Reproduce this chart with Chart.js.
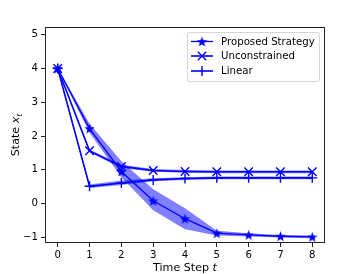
<!DOCTYPE html>
<html lang="en">
<head>
    <meta charset="UTF-8">
    <title>state trajectories</title>
    <style>
        body {
            margin: 0;
            background-color: #ffffff;
        }

        #wrap {
            position: relative;
            width: 361px;
            height: 274px;
        }
    </style>
    <script src="https://cdn.jsdelivr.net/npm/chart.js"></script>
</head>
<body>

    <div id="wrap"><canvas id="graph"></canvas></div>

    <script>
        // data
        const steps = [0, 1, 2, 3, 4, 5, 6, 7, 8];
        const proposed = [4.0, 2.22, 0.95, 0.08, -0.45, -0.88, -0.93, -0.97, -0.99];
        const proposedHigh = [4.02, 2.36, 1.25, 0.42, -0.14, -0.81, -0.88, -0.93, -0.95];
        const proposedLow = [3.98, 2.1, 0.78, -0.2, -0.76, -0.95, -0.98, -1.01, -1.03];
        const unconstrained = [4.0, 1.56, 1.1, 0.98, 0.95, 0.94, 0.94, 0.94, 0.94];
        const unconstrainedHigh = [4.02, 1.6, 1.15, 1.02, 0.99, 0.98, 0.98, 0.98, 0.98];
        const unconstrainedLow = [3.98, 1.52, 1.05, 0.94, 0.91, 0.9, 0.9, 0.9, 0.9];
        const linear = [4.0, 0.51, 0.61, 0.7, 0.74, 0.76, 0.76, 0.76, 0.76];
        const linearHigh = [4.02, 0.56, 0.68, 0.75, 0.78, 0.8, 0.8, 0.8, 0.8];
        const linearLow = [3.98, 0.46, 0.55, 0.66, 0.7, 0.72, 0.72, 0.72, 0.72];
        const xTicks = [0, 1, 2, 3, 4, 5, 6, 7, 8];
        const yTicks = [-1, 0, 1, 2, 3, 4, 5];
        const names = ['Proposed Strategy', 'Unconstrained', 'Linear'];

        const blue = '#0000ff';
        const band = 'rgba(0, 0, 255, 0.5)';

        // filled five point star like matplotlib '*'
        function MakeStar(size) {
            const c = document.createElement('canvas');
            c.width = size;
            c.height = size;
            const g = c.getContext('2d');
            const r = size / 2;
            g.beginPath();
            for (let i = 0; i < 10; i++) {
                const rr = i % 2 == 0 ? r : r * 0.42;
                const a = -Math.PI / 2 + i * Math.PI / 5;
                const px = r + rr * Math.cos(a);
                const py = r + 0.5 + rr * Math.sin(a);
                if (i == 0) g.moveTo(px, py); else g.lineTo(px, py);
            }
            g.closePath();
            g.fillStyle = blue;
            g.fill();
            return c;
        }
        const star = MakeStar(11);

        function pts(arr) {
            return steps.map((s, i) => ({ x: s, y: arr[i] }));
        }

        function bandSet(arr, fill) {
            return {
                data: pts(arr),
                borderWidth: 0,
                pointRadius: 0,
                backgroundColor: band,
                fill: fill
            };
        }

        const styles = [
            { pointStyle: star, pointRadius: 5.5, borderWidth: 1.3 },
            { pointStyle: 'crossRot', pointRadius: 6, borderWidth: 1.6 },
            { pointStyle: 'cross', pointRadius: 5, borderWidth: 1.6 }
        ];

        function lineSet(arr, k) {
            return {
                label: names[k],
                data: pts(arr),
                borderColor: blue,
                backgroundColor: blue,
                borderWidth: styles[k].borderWidth,
                pointStyle: styles[k].pointStyle,
                pointRadius: styles[k].pointRadius,
                pointBorderWidth: 1.4,
                pointBorderColor: blue,
                pointBackgroundColor: blue,
                fill: false,
                tension: 0
            };
        }

        const titleSize = 11.1;

        // legend box, axis titles and the four spines
        const decor = {
            id: 'decor',
            afterDraw(chart) {
                const ctx = chart.ctx;
                const a = chart.chartArea;
                ctx.save();

                ctx.strokeStyle = '#222222';
                ctx.lineWidth = 1;
                ctx.strokeRect(a.left + 0.5, a.top + 0.5, a.right - a.left - 1, a.bottom - a.top - 1);

                // legend
                const bx = 187.5, by = 32.5, bw = 132, bh = 49;
                ctx.fillStyle = 'rgba(255,255,255,0.8)';
                ctx.strokeStyle = '#d6d6d6';
                ctx.lineWidth = 1;
                ctx.beginPath();
                ctx.roundRect(bx, by, bw, bh, 2);
                ctx.fill();
                ctx.stroke();

                const rows = [41.5, 56, 71];
                ctx.font = '10.2px "DejaVu Sans"';
                ctx.textBaseline = 'middle';
                for (let k = 0; k < 3; k++) {
                    const y = rows[k];
                    ctx.strokeStyle = blue;
                    ctx.lineWidth = styles[k].borderWidth;
                    ctx.beginPath();
                    ctx.moveTo(191, y);
                    ctx.lineTo(213, y);
                    ctx.stroke();
                    const mx = 202;
                    if (k == 0) {
                        ctx.drawImage(star, mx - 5.5, y - 5.5);
                    } else if (k == 1) {
                        ctx.lineWidth = 1.4;
                        ctx.beginPath();
                        ctx.moveTo(mx - 4.2, y - 4.2); ctx.lineTo(mx + 4.2, y + 4.2);
                        ctx.moveTo(mx - 4.2, y + 4.2); ctx.lineTo(mx + 4.2, y - 4.2);
                        ctx.stroke();
                    } else {
                        ctx.lineWidth = 1.4;
                        ctx.beginPath();
                        ctx.moveTo(mx, y - 5); ctx.lineTo(mx, y + 5);
                        ctx.stroke();
                    }
                    ctx.fillStyle = '#000000';
                    ctx.fillText(names[k], 221, y + 0.5);
                }

                // x title with italic t
                const plain = titleSize + 'px "DejaVu Sans"';
                const ital = 'italic ' + titleSize + 'px "DejaVu Sans"';
                const sub = 'italic ' + (titleSize * 0.7) + 'px "DejaVu Sans"';
                ctx.fillStyle = '#000000';
                ctx.textBaseline = 'alphabetic';
                const t1 = 'Time Step ';
                ctx.font = ital;
                const wT = ctx.measureText('t').width;
                ctx.font = plain;
                const w1 = ctx.measureText(t1).width;
                let sx = (a.left + a.right) / 2 - (w1 + wT) / 2;
                ctx.fillText(t1, sx, 270.7);
                ctx.font = ital;
                ctx.fillText('t', sx + w1, 270.7);

                // y title: State x_t
                ctx.translate(19.3, (a.top + a.bottom) / 2);
                ctx.rotate(-Math.PI / 2);
                ctx.font = plain;
                const s1 = 'State ';
                const ws1 = ctx.measureText(s1).width;
                ctx.font = ital;
                const wx = ctx.measureText('x').width;
                ctx.font = sub;
                const wt = ctx.measureText('t').width;
                sx = -(ws1 + wx + wt) / 2;
                ctx.font = plain;
                ctx.fillText(s1, sx, 0);
                ctx.font = ital;
                ctx.fillText('x', sx + ws1, 0);
                ctx.font = sub;
                ctx.fillText('t', sx + ws1 + wx, 2.3);

                ctx.restore();
            }
        };

        const tickFont = { family: 'DejaVu Sans', size: 10.2 };

        new Chart(document.getElementById('graph'), {
            type: 'line',
            data: {
                datasets: [
                    lineSet(proposed, 0),
                    lineSet(unconstrained, 1),
                    lineSet(linear, 2),
                    bandSet(proposedHigh, '+1'),
                    bandSet(proposedLow, false),
                    bandSet(unconstrainedHigh, '+1'),
                    bandSet(unconstrainedLow, false),
                    bandSet(linearHigh, '+1'),
                    bandSet(linearLow, false)
                ]
            },
            options: {
                responsive: true,
                maintainAspectRatio: false,
                animation: false,
                layout: { padding: { left: 0, right: 36, top: 27, bottom: 0 } },
                scales: {
                    x: {
                        type: 'linear',
                        min: -0.4,
                        max: 8.4,
                        afterBuildTicks: s => { s.ticks = xTicks.map(v => ({ value: v })); },
                        afterFit: s => { s.height = 31; },
                        grid: { drawOnChartArea: false, tickLength: 4, color: '#222222' },
                        border: { display: false },
                        ticks: { font: tickFont, color: '#000000', padding: 2, maxRotation: 0 }
                    },
                    y: {
                        min: -1.17,
                        max: 5.23,
                        afterBuildTicks: s => { s.ticks = yTicks.map(v => ({ value: v })); },
                        afterFit: s => { s.width = 45; },
                        grid: { drawOnChartArea: false, tickLength: 4, color: '#222222' },
                        border: { display: false },
                        ticks: {
                            font: tickFont,
                            color: '#000000',
                            padding: 3,
                            callback: v => String(v).replace('-', '\u2212')
                        }
                    }
                },
                plugins: {
                    legend: { display: false },
                    tooltip: { enabled: false },
                    filler: { drawTime: 'beforeDatasetsDraw' }
                }
            },
            plugins: [decor]
        });
    </script>

</body>
</html>
